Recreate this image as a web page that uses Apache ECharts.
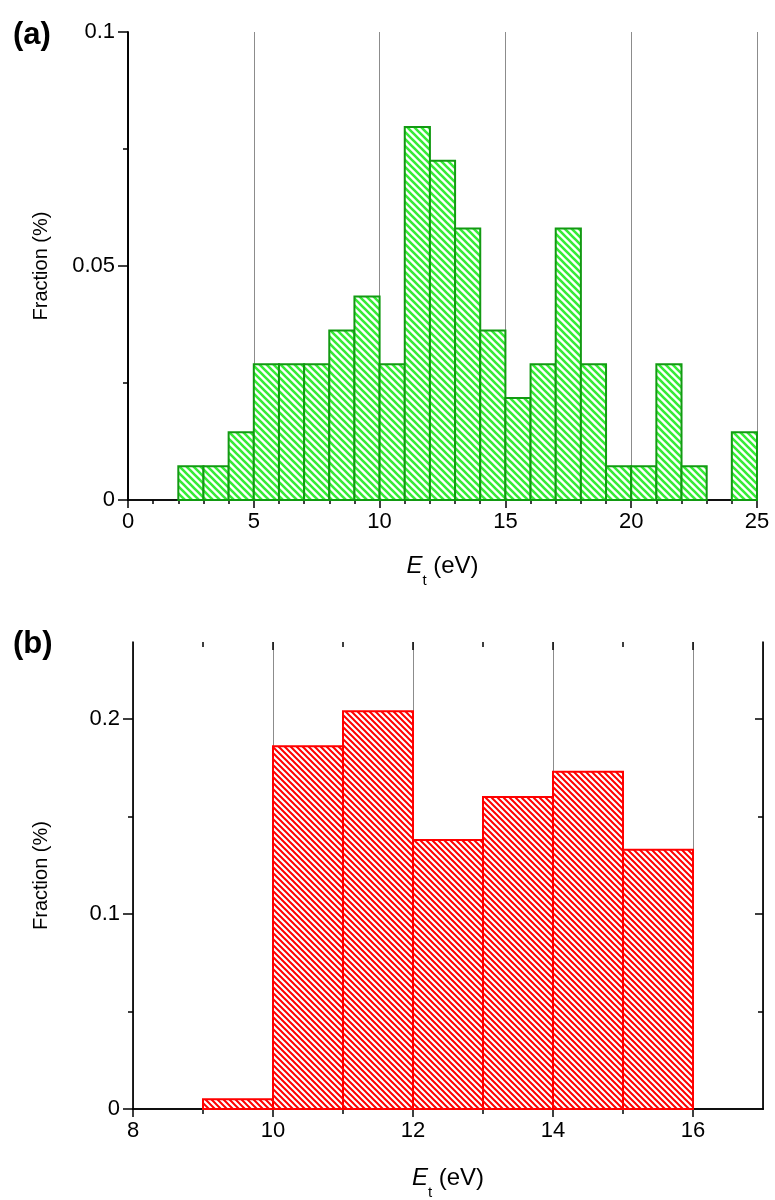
<!DOCTYPE html>
<html>
<head>
<meta charset="utf-8">
<script src="https://cdn.jsdelivr.net/npm/echarts@6/dist/echarts.min.js"></script>
<style>
html,body{margin:0;padding:0;background:#fff;}
#chart{width:775px;height:1200px;}
</style>
</head>
<body>
<div id="chart"></div>
<script>
// ---------- data ----------
// panel (a): bin edges (eV) and fraction per bin
const topEdges = [2,3,4,5,6,7,8,9,10,11,12,13,14,15,16,17,18,19,20,21,22,23,24,25];
const topFraction = [0.0072,0.0072,0.0145,0.029,0.029,0.029,0.0362,0.0435,0.029,0.0797,0.0725,0.058,0.0362,0.0218,0.029,0.058,0.029,0.0072,0.0072,0.029,0.0072,0,0.0145];
// panel (b)
const bottomEdges = [9,10,11,12,13,14,15,16];
const bottomFraction = [0.005,0.186,0.204,0.138,0.160,0.173,0.133];

// tick values
const topXMinor = [1,2,3,4,6,7,8,9,11,12,13,14,16,17,18,19,21,22,23,24];
const topYMajor = [0,0.05,0.1];
const topYMinor = [0.025,0.075];
const botXMajor = [10,12,14,16];
const botXMinor = [9,11,13,15];
const botYMajor = [0,0.1,0.2];
const botYMinor = [0.05,0.15];

const FONT = 'Liberation Sans, Arial, sans-serif';

function makeHatch(color, size, lw) {
  const c = document.createElement('canvas');
  c.width = size; c.height = size;
  const ctx = c.getContext('2d');
  ctx.fillStyle = '#ffffff';
  ctx.fillRect(0,0,size,size);
  ctx.strokeStyle = color;
  ctx.lineWidth = lw;
  ctx.beginPath();
  for (let k=-1;k<=1;k++){
    ctx.moveTo(-size, k*size - size);
    ctx.lineTo(2*size, k*size + 2*size);
  }
  ctx.stroke();
  return c;
}
const greenHatch = {image: makeHatch('#36ec36', 7, 2.6), repeat: 'repeat'};
const redHatch = {image: makeHatch('#ff0000', 6, 2.0), repeat: 'repeat'};

const topData = topFraction.map((v,i)=>[topEdges[i], topEdges[i+1], v]);
const bottomData = bottomFraction.map((v,i)=>[bottomEdges[i], bottomEdges[i+1], v]);

function makeRender(fill, stroke, lw) {
  return function(params, api) {
    const x0 = api.value(0), x1 = api.value(1), y = api.value(2);
    if (!(y > 0)) return null;
    const p0 = api.coord([x0, y]);
    const p1 = api.coord([x1, 0]);
    return {
      type: 'rect',
      shape: {x: p0[0], y: p0[1], width: p1[0]-p0[0], height: p1[1]-p0[1]},
      style: {fill: fill, stroke: stroke, lineWidth: lw}
    };
  };
}

const axisLineStyle = {show: true, lineStyle: {color: '#000', width: 1.7}};
const labelStyle = {color: '#000', fontFamily: FONT, fontSize: 22};
const nameRich = {
  i: {fontFamily: FONT, fontSize: 24, fontStyle: 'italic', color: '#000', verticalAlign: 'top', lineHeight: 26},
  s: {fontFamily: FONT, fontSize: 15, color: '#000', verticalAlign: 'bottom', lineHeight: 34},
  n: {fontFamily: FONT, fontSize: 24, color: '#000', verticalAlign: 'top', lineHeight: 26}
};

function frameAxis(gridIndex, position, min, max, extra) {
  return Object.assign({
    type: 'value', gridIndex, position, min, max,
    axisLine: axisLineStyle,
    axisTick: {show: false},
    axisLabel: {show: false},
    splitLine: {show: false}
  }, extra || {});
}
function tickAxis(gridIndex, position, min, max, values, len, inside) {
  return {
    type: 'value', gridIndex, position, min, max,
    axisLine: {show: false, onZero: false},
    axisTick: {show: true, customValues: values, length: len, inside: !!inside, lineStyle: {color: '#000', width: 1.5}},
    axisLabel: {show: false},
    splitLine: {show: false}
  };
}

const option = {
  backgroundColor: '#fff',
  animation: false,
  title: [
    {text: '(a)', left: 8, top: 15, textStyle: {fontFamily: FONT, fontSize: 31, fontWeight: 'bold', color: '#000'}},
    {text: '(b)', left: 8, top: 624, textStyle: {fontFamily: FONT, fontSize: 31, fontWeight: 'bold', color: '#000'}}
  ],
  grid: [
    {left: 128, top: 32, width: 629, height: 468, outerBoundsMode: 'none', containLabel: false},
    {left: 133, top: 642, width: 630, height: 467, outerBoundsMode: 'none', containLabel: false}
  ],
  xAxis: [
    // panel a
    {
      type: 'value', gridIndex: 0, position: 'bottom', min: 0, max: 25, interval: 5,
      axisLine: {show: true, onZero: false, lineStyle: {color: '#000', width: 1.7}},
      axisTick: {show: true, length: 8, lineStyle: {color: '#000', width: 1.5}},
      axisLabel: Object.assign({margin: 11}, labelStyle),
      splitLine: {show: true, lineStyle: {color: '#8c8c8c', width: 1}},
      name: '{i|E}{s|t}{n| (eV)}', nameLocation: 'middle', nameGap: 54,
      nameTextStyle: {rich: nameRich}
    },
    tickAxis(0, 'bottom', 0, 25, topXMinor, 4, false),
    frameAxis(0, 'top', 0, 25),
    // panel b
    {
      type: 'value', gridIndex: 1, position: 'bottom', min: 8, max: 17, interval: 2,
      axisLine: {show: true, onZero: false, lineStyle: {color: '#000', width: 1.7}},
      axisTick: {show: true, length: 8, lineStyle: {color: '#000', width: 1.5}},
      axisLabel: Object.assign({margin: 11, showMaxLabel: false}, labelStyle),
      splitLine: {show: true, lineStyle: {color: '#8c8c8c', width: 1}},
      name: '{i|E}{s|t}{n| (eV)}', nameLocation: 'middle', nameGap: 57,
      nameTextStyle: {rich: nameRich}
    },
    tickAxis(1, 'bottom', 8, 17, botXMinor, 5, false),
    frameAxis(1, 'top', 8, 17),
    tickAxis(1, 'top', 8, 17, botXMajor, 8, true),
    tickAxis(1, 'top', 8, 17, botXMinor, 5, true)
  ],
  yAxis: [
    // panel a
    {
      type: 'value', gridIndex: 0, position: 'left', min: 0, max: 0.1,
      axisLine: {show: true, onZero: false, lineStyle: {color: '#000', width: 1.7}},
      axisTick: {show: true, customValues: topYMajor, length: 10, lineStyle: {color: '#000', width: 1.5}},
      axisLabel: Object.assign({margin: 13, customValues: topYMajor}, labelStyle),
      splitLine: {show: false},
      name: 'Fraction (%)', nameLocation: 'middle', nameGap: 77, nameRotate: 90,
      nameTextStyle: {fontFamily: FONT, fontSize: 20, color: '#000'}
    },
    tickAxis(0, 'left', 0, 0.1, topYMinor, 5, false),
    frameAxis(0, 'right', 0, 0.1),
    // panel b
    {
      type: 'value', gridIndex: 1, position: 'left', min: 0, max: 0.2395,
      axisLine: {show: true, onZero: false, lineStyle: {color: '#000', width: 1.7}},
      axisTick: {show: true, customValues: botYMajor, length: 10, lineStyle: {color: '#000', width: 1.5}},
      axisLabel: Object.assign({margin: 13, customValues: botYMajor}, labelStyle),
      splitLine: {show: false},
      name: 'Fraction (%)', nameLocation: 'middle', nameGap: 82, nameRotate: 90,
      nameTextStyle: {fontFamily: FONT, fontSize: 20, color: '#000'}
    },
    tickAxis(1, 'left', 0, 0.2395, botYMinor, 5, false),
    frameAxis(1, 'right', 0, 0.2395),
    tickAxis(1, 'right', 0, 0.2395, [0.1, 0.2], 8, true),
    tickAxis(1, 'right', 0, 0.2395, botYMinor, 5, true)
  ],
  series: [
    {
      type: 'custom', xAxisIndex: 0, yAxisIndex: 0,
      encode: {x: [0,1], y: 2},
      data: topData,
      renderItem: makeRender(greenHatch, '#129a12', 2)
    },
    {
      type: 'custom', xAxisIndex: 3, yAxisIndex: 3,
      encode: {x: [0,1], y: 2},
      data: bottomData,
      renderItem: makeRender(redHatch, '#ff0000', 2)
    }
  ]
};

const chart = echarts.init(document.getElementById('chart'), null, {renderer: 'canvas'});
chart.setOption(option);
</script>
</body>
</html>
